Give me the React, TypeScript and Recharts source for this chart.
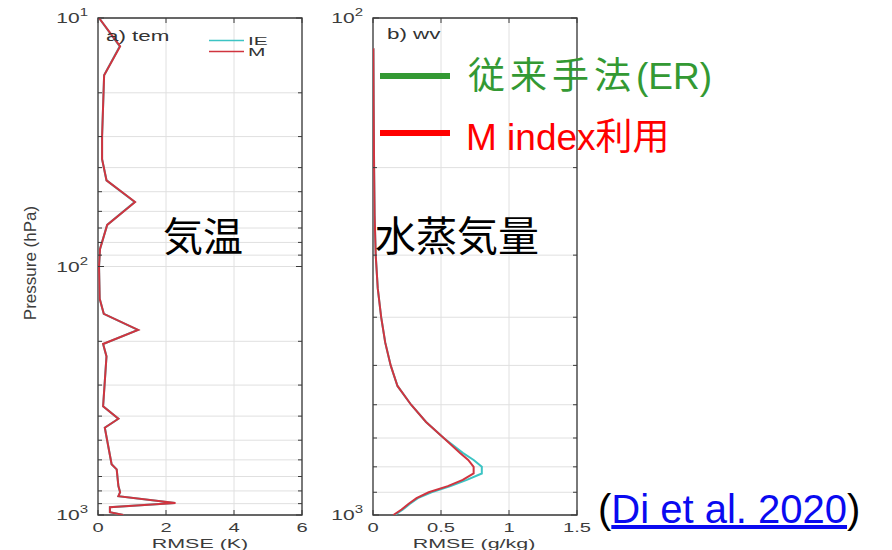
import React from 'react';
import { ScatterChart, Scatter, XAxis, YAxis, CartesianGrid, ReferenceArea } from 'recharts';

// a) temperature RMSE (K) by pressure level (hPa)
const tempLevels = [10, 13, 17, 30, 37, 45, 55, 68, 85, 100, 135, 155, 180, 205, 230, 290, 365, 410, 445, 625, 655, 765, 810, 840, 895, 930, 975, 1000];
const tempIE = [0.03, 0.64, 0.18, 0.12, 0.12, 0.25, 1.08, 0.27, 0.06, 0.03, 0.05, 0.17, 1.17, 0.15, 0.25, 0.2, 0.15, 0.6, 0.2, 0.4, 0.55, 0.6, 0.65, 0.6, 2.26, 0.35, 0.35, 0.75];
const tempM = [0.03, 0.65, 0.18, 0.12, 0.12, 0.25, 1.09, 0.27, 0.06, 0.03, 0.05, 0.17, 1.18, 0.15, 0.25, 0.2, 0.15, 0.6, 0.2, 0.4, 0.55, 0.6, 0.65, 0.6, 2.28, 0.35, 0.35, 0.75];

// b) water vapour RMSE (g/kg) by pressure level (hPa)
const wvLevels = [115, 150, 200, 250, 300, 350, 400, 450, 500, 550, 600, 650, 700, 750, 775, 800, 825, 850, 875, 900, 925, 950, 975, 1000];
const wvIE = [0.003, 0.005, 0.008, 0.012, 0.02, 0.035, 0.06, 0.09, 0.13, 0.18, 0.28, 0.39, 0.52, 0.66, 0.74, 0.8, 0.8, 0.69, 0.57, 0.43, 0.33, 0.27, 0.22, 0.16];
const wvM = [0.003, 0.005, 0.008, 0.012, 0.02, 0.035, 0.06, 0.09, 0.13, 0.18, 0.28, 0.39, 0.52, 0.64, 0.7, 0.74, 0.74, 0.66, 0.55, 0.41, 0.32, 0.26, 0.21, 0.15];

const tempTicksX = [0, 2, 4, 6];
const wvTicksX = [0, 0.5, 1, 1.5];
const tempTicksY = [10, 20, 30, 40, 50, 60, 70, 80, 90, 100, 200, 300, 400, 500, 600, 700, 800, 900, 1000];
const wvTicksY = [100, 200, 300, 400, 500, 600, 700, 800, 900, 1000];
const decadeExp: Record<number, string> = { 10: '1', 100: '2', 1000: '3' };

const PLOT_W = 204;
const PLOT_H = 497;
const IE_COLOR = '#3cc4c4';
const M_COLOR = '#d0343f';
const FRAME = '#3a3a3a';
const axisFont = "'Liberation Sans', Arial, Helvetica, sans-serif";
const jpFont = "'Liberation Sans', 'Noto Sans CJK JP', sans-serif";

const toPoints = (levels: number[], values: number[]) => levels.map((p, i) => ({ p, rmse: values[i] }));

const YTick = (props: any) => {
  const { x, y, payload } = props;
  const exp = decadeExp[payload.value];
  const len = exp ? 6 : 4;
  return (
    <g>
      <line x1={x} x2={x + len} y1={y} y2={y} stroke={FRAME} />
      <line x1={x + PLOT_W - len} x2={x + PLOT_W} y1={y} y2={y} stroke={FRAME} />
      {exp && (
        <text transform={`translate(${x - 10},${y + 5}) scale(1.5,1)`} textAnchor="end" fontSize={14} fill="#3c3c3c" fontFamily={axisFont}>
          10<tspan dy={-7} fontSize={10}>{exp}</tspan>
        </text>
      )}
    </g>
  );
};

const XTick = (props: any) => {
  const { x, y, payload } = props;
  return (
    <g>
      <line x1={x} x2={x} y1={y} y2={y - 5} stroke={FRAME} />
      <line x1={x} x2={x} y1={y - PLOT_H} y2={y - PLOT_H + 5} stroke={FRAME} />
      <text transform={`translate(${x},${y + 17}) scale(1.55,1)`} textAnchor="middle" fontSize={13} fill="#3c3c3c" fontFamily={axisFont}>
        {payload.value}
      </text>
    </g>
  );
};

type PanelProps = {
  left: number;
  width: number;
  yWidth: number;
  xDomain: [number, number];
  xTicks: number[];
  yDomain: [number, number];
  yTicks: number[];
  ie: { p: number; rmse: number }[];
  m: { p: number; rmse: number }[];
};

const Panel = ({ left, width, yWidth, xDomain, xTicks, yDomain, yTicks, ie, m }: PanelProps) => (
  <div style={{ position: 'absolute', left, top: 0 }}>
    <ScatterChart width={width} height={550} margin={{ top: 18, right: width - yWidth - PLOT_W, bottom: 0, left: 0 }}>
      <CartesianGrid stroke="#e0e0e0" />
      <XAxis type="number" dataKey="rmse" domain={xDomain} ticks={xTicks} interval={0} height={35}
        tickSize={0} tickMargin={0} tickLine={false} axisLine={false} tick={(p: any) => <XTick {...p} />} allowDataOverflow />
      <YAxis type="number" dataKey="p" scale="log" domain={yDomain} ticks={yTicks} interval={0} reversed width={yWidth}
        tickSize={0} tickMargin={0} tickLine={false} axisLine={false} tick={(p: any) => <YTick {...p} />} allowDataOverflow />
      <ReferenceArea x1={xDomain[0]} x2={xDomain[1]} y1={yDomain[0]} y2={yDomain[1]} fill="none" stroke={FRAME} strokeWidth={1.3} />
      <Scatter data={ie} line={{ stroke: IE_COLOR, strokeWidth: 2 }} shape={() => <g />} isAnimationActive={false} />
      <Scatter data={m} line={{ stroke: M_COLOR, strokeWidth: 2 }} shape={() => <g />} isAnimationActive={false} />
    </ScatterChart>
  </div>
);

const Overlay = () => (
  <svg width={892} height={550} style={{ position: 'absolute', left: 0, top: 0, pointerEvents: 'none' }}>
    {/* axis titles */}
    <text transform="translate(30,263) rotate(-90)" textAnchor="middle" dominantBaseline="central" fontSize={17} fill="#3c3c3c" fontFamily={axisFont}>
      Pressure (hPa)
    </text>
    <text transform="translate(200,548) scale(1.65,1)" textAnchor="middle" fontSize={13} fill="#3c3c3c" fontFamily={axisFont}>RMSE (K)</text>
    <text transform="translate(474,548) scale(1.65,1)" textAnchor="middle" fontSize={13} fill="#3c3c3c" fontFamily={axisFont}>RMSE (g/kg)</text>

    {/* panel titles and small legend */}
    <text transform="translate(106,41) scale(1.6,1)" fontSize={14} fill="#333" fontFamily={axisFont}>a) tem</text>
    <text transform="translate(387,39) scale(1.6,1)" fontSize={14} fill="#333" fontFamily={axisFont}>b) wv</text>
    <line x1={209} x2={244} y1={40.5} y2={40.5} stroke={IE_COLOR} strokeWidth={1.5} />
    <line x1={209} x2={244} y1={51.5} y2={51.5} stroke={M_COLOR} strokeWidth={1.5} />
    <text transform="translate(248,45) scale(1.9,1)" fontSize={11} fill="#333" fontFamily={axisFont}>IE</text>
    <text transform="translate(248,56) scale(1.9,1)" fontSize={11} fill="#333" fontFamily={axisFont}>M</text>

    {/* slide annotations */}
    <text x={163} y={251} fontSize={40} fill="#000" fontFamily="'Noto Sans CJK JP', sans-serif">気温</text>
    <text x={375} y={251} fontSize={41} fill="#000" fontFamily="'Noto Sans CJK JP', sans-serif">水蒸気量</text>

    <line x1={380} x2={450} y1={76} y2={76} stroke="#339933" strokeWidth={6} />
    <text x={468} y={89} fontSize={37} fill="#339933" fontFamily={jpFont}>
      <tspan letterSpacing={5}>従来手法</tspan>(ER)
    </text>
    <line x1={380} x2={450} y1={133} y2={133} stroke="#ff0000" strokeWidth={6} />
    <text x={466} y={150} fontSize={37} fill="#ff0000" fontFamily={jpFont}>M index利用</text>

    <text x={598} y={523} fontSize={40} fill="#000" fontFamily={axisFont}>
      (<tspan fill="#0a0af0" textDecoration="underline" style={{ textDecoration: 'underline' }}>Di et al. 2020</tspan>)
    </text>
  </svg>
);

export default function App() {
  return (
    <div style={{ position: 'absolute', left: 0, top: 0, width: 892, height: 550, background: '#fff', overflow: 'hidden' }}>
      <Panel left={0} width={310} yWidth={98} xDomain={[0, 6]} xTicks={tempTicksX} yDomain={[10, 1000]} yTicks={tempTicksY}
        ie={toPoints(tempLevels, tempIE)} m={toPoints(tempLevels, tempM)} />
      <Panel left={310} width={290} yWidth={63} xDomain={[0, 1.5]} xTicks={wvTicksX} yDomain={[100, 1000]} yTicks={wvTicksY}
        ie={toPoints(wvLevels, wvIE)} m={toPoints(wvLevels, wvM)} />
      <Overlay />
    </div>
  );
}
